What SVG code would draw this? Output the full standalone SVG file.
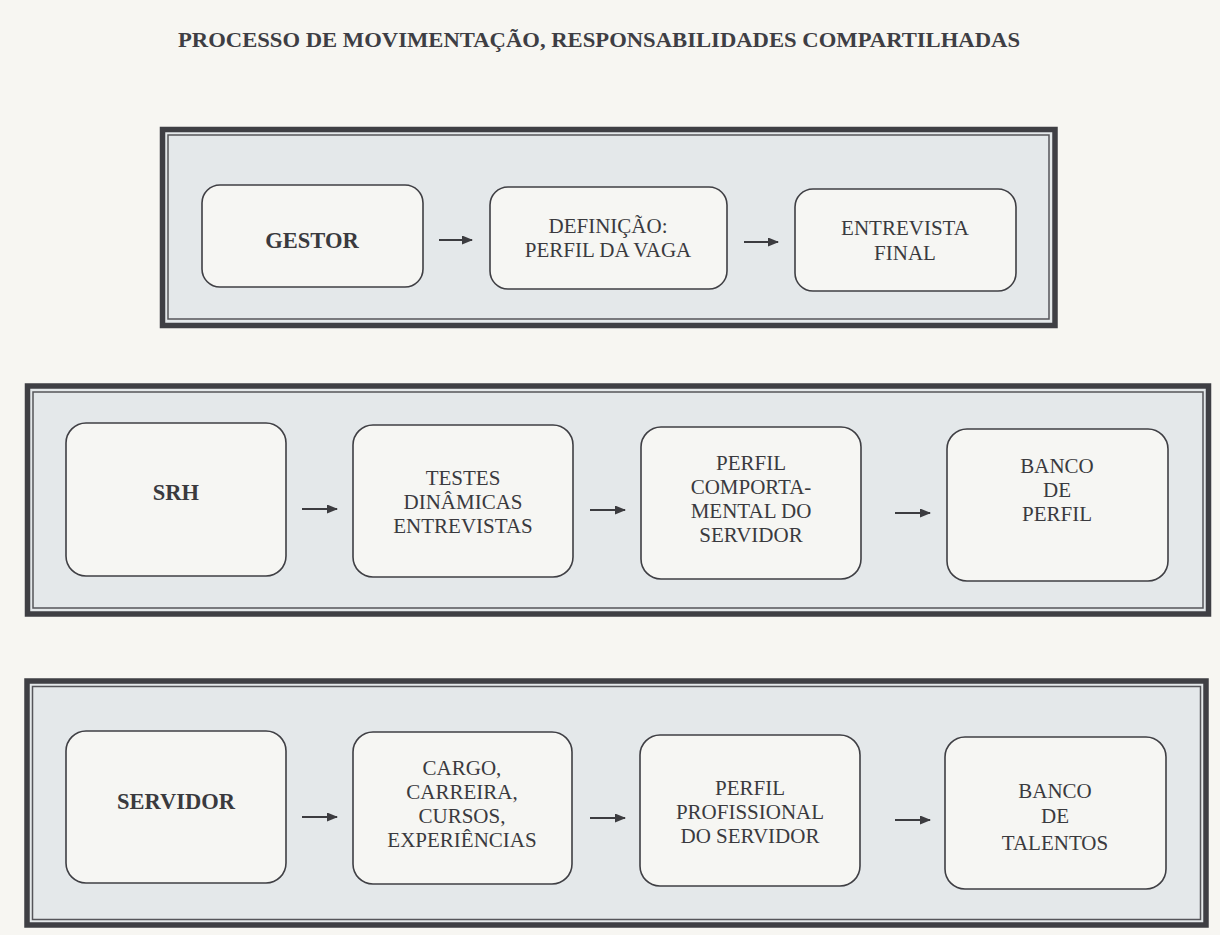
<svg xmlns="http://www.w3.org/2000/svg" width="1220" height="935" viewBox="0 0 1220 935">
<defs>
<marker id="ah" markerWidth="11" markerHeight="9" refX="10" refY="4.5" orient="auto" markerUnits="userSpaceOnUse">
<path d="M0,0 L11,4.5 L0,9 Z" fill="#3c3c40"/>
</marker>
<style>
.bg{fill:#f7f6f2}
.frame{fill:#e4e8ea;stroke:#3f3f44;stroke-width:5.5}
.inner{fill:none;stroke:#55555a;stroke-width:1.5}
.node{fill:#f6f6f3;stroke:#3f3f44;stroke-width:1.6}
.t{font-family:"Liberation Serif","Times New Roman",serif;font-size:21px;fill:#3a3a3e;text-anchor:middle}
.b{font-weight:bold;font-size:22.5px}
.title{font-family:"Liberation Serif","Times New Roman",serif;font-size:22px;font-weight:bold;fill:#3e3e44}
.arr{stroke:#3c3c40;stroke-width:1.8;fill:none;marker-end:url(#ah)}
</style>
</defs>
<rect class="bg" x="0" y="0" width="1220" height="935"/>
<text class="title" x="178" y="47" textLength="842" lengthAdjust="spacingAndGlyphs">PROCESSO DE MOVIMENTAÇÃO, RESPONSABILIDADES COMPARTILHADAS</text>

<g id="frame-gestor">
<rect class="frame" x="162.5" y="129.5" width="892.5" height="196"/>
<rect class="inner" x="168" y="135" width="881" height="184"/>
</g>
<g id="frame-srh">
<rect class="frame" x="27.5" y="386" width="1181" height="228"/>
<rect class="inner" x="33" y="392" width="1170" height="216"/>
</g>
<g id="frame-servidor">
<rect class="frame" x="27" y="681" width="1179" height="244"/>
<rect class="inner" x="32.5" y="686.5" width="1168" height="233"/>
</g>

<g id="n-gestor">
<rect class="node" x="202" y="185" width="221" height="102" rx="18"/>
<text class="t b" x="312" y="248">GESTOR</text>
</g>
<g id="n-definicao">
<rect class="node" x="490" y="187" width="237" height="102" rx="18"/>
<text class="t" x="608" y="233">DEFINIÇÃO:</text>
<text class="t" x="608" y="257">PERFIL DA VAGA</text>
</g>
<g id="n-entrevista">
<rect class="node" x="795" y="189" width="221" height="102" rx="18"/>
<text class="t" x="905" y="235">ENTREVISTA</text>
<text class="t" x="905" y="260">FINAL</text>
</g>

<g id="n-srh">
<rect class="node" x="66" y="423" width="220" height="153" rx="20"/>
<text class="t b" x="176" y="500">SRH</text>
</g>
<g id="n-testes">
<rect class="node" x="353" y="425" width="220" height="152" rx="20"/>
<text class="t" x="463" y="485">TESTES</text>
<text class="t" x="463" y="509">DINÂMICAS</text>
<text class="t" x="463" y="533">ENTREVISTAS</text>
</g>
<g id="n-perfil-comp">
<rect class="node" x="641" y="427" width="220" height="152" rx="20"/>
<text class="t" x="751" y="470">PERFIL</text>
<text class="t" x="751" y="494">COMPORTA-</text>
<text class="t" x="751" y="518">MENTAL DO</text>
<text class="t" x="751" y="542">SERVIDOR</text>
</g>
<g id="n-banco-perfil">
<rect class="node" x="947" y="429" width="221" height="152" rx="20"/>
<text class="t" x="1057" y="473">BANCO</text>
<text class="t" x="1057" y="497">DE</text>
<text class="t" x="1057" y="521">PERFIL</text>
</g>

<g id="n-servidor">
<rect class="node" x="66" y="731" width="220" height="152" rx="20"/>
<text class="t b" x="176" y="809">SERVIDOR</text>
</g>
<g id="n-cargo">
<rect class="node" x="353" y="732" width="219" height="152" rx="20"/>
<text class="t" x="462" y="775">CARGO,</text>
<text class="t" x="462" y="799">CARREIRA,</text>
<text class="t" x="462" y="823">CURSOS,</text>
<text class="t" x="462" y="847">EXPERIÊNCIAS</text>
</g>
<g id="n-perfil-prof">
<rect class="node" x="640" y="735" width="220" height="151" rx="20"/>
<text class="t" x="750" y="795">PERFIL</text>
<text class="t" x="750" y="819">PROFISSIONAL</text>
<text class="t" x="750" y="843">DO SERVIDOR</text>
</g>
<g id="n-banco-talentos">
<rect class="node" x="945" y="737" width="221" height="152" rx="20"/>
<text class="t" x="1055" y="798">BANCO</text>
<text class="t" x="1055" y="823">DE</text>
<text class="t" x="1055" y="850">TALENTOS</text>
</g>

<g id="connectors">
<line class="arr" x1="439" y1="240" x2="472" y2="240"/>
<line class="arr" x1="744" y1="242" x2="778" y2="242"/>
<line class="arr" x1="302" y1="509" x2="337" y2="509"/>
<line class="arr" x1="590" y1="510" x2="625" y2="510"/>
<line class="arr" x1="895" y1="513" x2="930" y2="513"/>
<line class="arr" x1="302" y1="817" x2="337" y2="817"/>
<line class="arr" x1="590" y1="818" x2="625" y2="818"/>
<line class="arr" x1="895" y1="820" x2="930" y2="820"/>
</g>
</svg>
